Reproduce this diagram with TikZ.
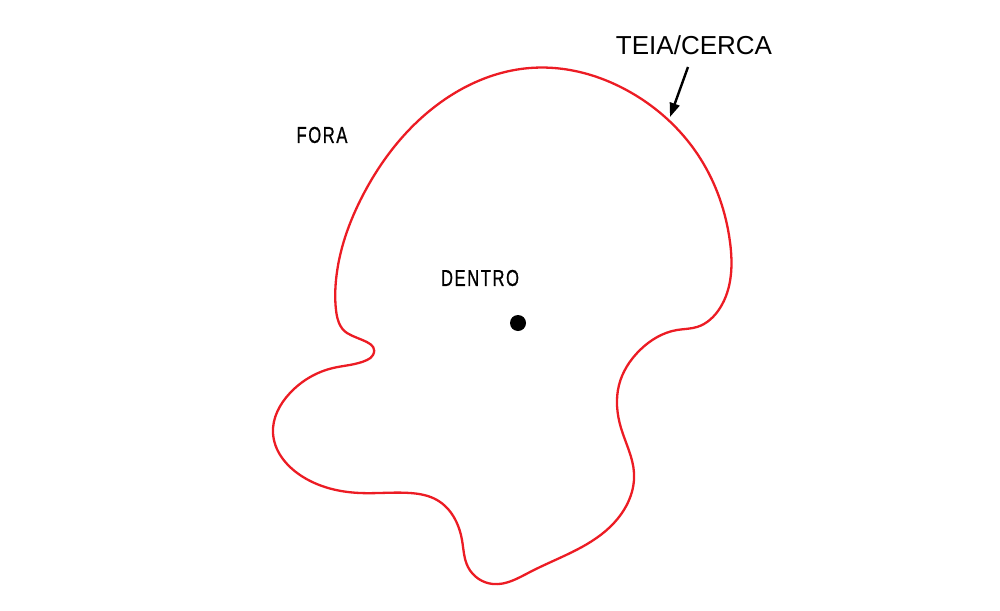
\documentclass[tikz,border=0pt]{standalone}
\usepackage{fontspec}
\setmainfont{Liberation Sans}
\newfontfamily\condfont[FakeStretch=0.72,LetterSpace=7,FakeBold=0.8]{Liberation Sans}
\usetikzlibrary{arrows.meta,hobby}
\definecolor{fencered}{RGB}{236,28,36}
\tikzset{
  fence/.style={draw=fencered, line width=2.3pt},
  lbl/.style={inner sep=0pt, font=\condfont\fontsize{23}{27}\selectfont},
  biglbl/.style={inner sep=0pt, font=\fontsize{26}{30}\selectfont},
  pointer/.style={line width=2.4pt, -{Triangle[length=14pt,width=10pt]}},
}
\begin{document}
\begin{tikzpicture}[x=1pt,y=-1pt]
\useasboundingbox (0,0) rectangle (1000,610);
\draw[fence, use Hobby shortcut, closed=true]
 (530,68) .. (630,92) .. (700,158) .. (730,242)
 .. (720,308) .. (697,327) .. (677,330) .. (640,350)
 .. (619,385) .. (621,428)
 .. (634,473) .. (610,527) .. (530,572)
 .. (493,584) .. (468,567) .. (462,540) .. (437,500) .. (410,493)
 .. (360,493) .. (300,475) .. (273,433) .. (290,393)
 .. (333,368) .. (367,360) .. (373,355) .. (347,333)
 .. (336,310) .. (336,280) .. (363,195) .. (437,105);
\node[biglbl] (teia) at (694,45) {TEIA/CERCA};
\node[lbl] (fora) at (322,135) {FORA};
\node[lbl] (dentro) at (480,278) {DENTRO};
\fill (518,323) circle (8) node (centro) {};
\coordinate (from) at (688,67);
\coordinate (tip) at (670,117);
\draw[pointer] (from) -- (tip);
\end{tikzpicture}
\end{document}
